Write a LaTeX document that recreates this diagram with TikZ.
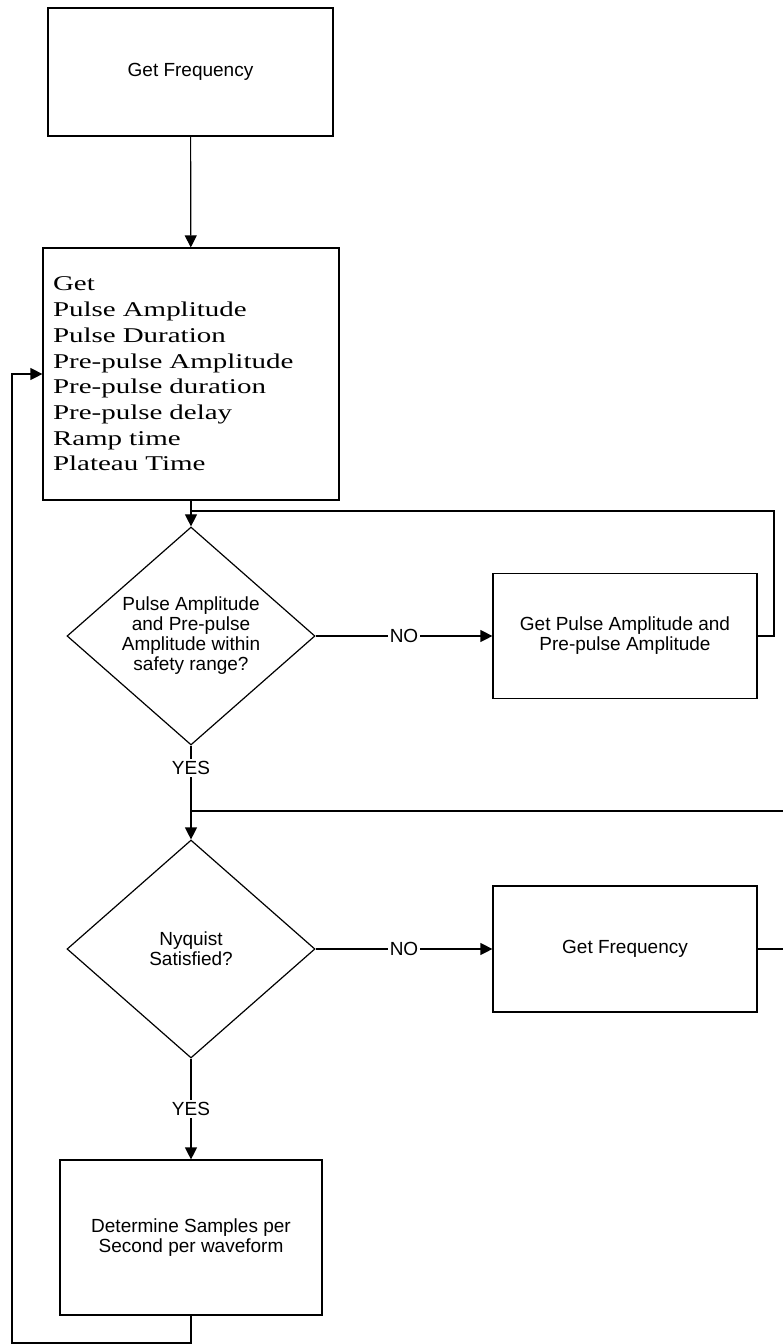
\documentclass[tikz,border=0pt]{standalone}
\usepackage{fontspec}
\setsansfont{Liberation Sans}
\newfontfamily\wideserif[FakeStretch=1.38]{Liberation Serif}
\usetikzlibrary{arrows.meta,shapes.geometric,positioning}

\tikzset{
  flow/.style={draw, line width=1.2pt, font=\sffamily\fontsize{19}{20}\selectfont, align=center},
  procbox/.style={flow, rectangle, inner sep=0pt},
  decision/.style={flow, diamond, shape aspect=1.14, inner sep=0pt, minimum width=248pt, minimum height=218pt},
  line/.style={line width=1.2pt},
  arrow/.style={line, -{Triangle[length=12pt,width=12pt]}},
  lbl/.style={fill=white, font=\sffamily\fontsize{19}{20}\selectfont, inner sep=2pt}
}

\begin{document}
\begin{tikzpicture}[x=1pt, y=-1pt]
  \useasboundingbox (0,0) rectangle (783,1344);
  \node[procbox, minimum width=285pt, minimum height=128pt] (freq) at (190.5,72) {Get Frequency};
  \node[procbox, minimum width=296pt, minimum height=252pt, text width=276pt, align=left, font=\wideserif\fontsize{21}{25.7}\selectfont] (param) at (191,374) {Get\\Pulse Amplitude\\Pulse Duration\\Pre-pulse Amplitude\\Pre-pulse duration\\Pre-pulse delay\\Ramp time\\Plateau Time};
  \node[decision] (chkamp) at (191,636) {Pulse Amplitude\\and Pre-pulse\\Amplitude within\\safety range?};
  \node[procbox, minimum width=264pt, minimum height=125pt] (getamp) at (625,636) {Get Pulse Amplitude and\\Pre-pulse Amplitude};
  \node[decision] (nyq) at (191,949) {Nyquist\\Satisfied?};
  \node[procbox, minimum width=264pt, minimum height=126pt] (getfreq) at (625,949) {Get Frequency};
  \node[procbox, minimum width=262pt, minimum height=155pt] (samp) at (191,1237.5) {Determine Samples per\\Second per waveform};
  % loop-back points
  \coordinate (join1) at (191,511);
  \coordinate (ret1) at (774,511);
  \coordinate (join2) at (191,811);
  \coordinate (ret2) at (790,811);
  \coordinate (back) at (12,1343);
  \draw[arrow] (freq) -- (param);
  \draw[arrow] (param) -- (chkamp);
  \draw[arrow] (chkamp.east) -- node[lbl] {NO} (getamp.west);
  \draw[line] (getamp.east) -| (ret1) -- (join1);
  \draw[arrow] (chkamp.south) -- node[lbl, pos=0.24] {YES} (nyq.north);
  \draw[arrow] (nyq.east) -- node[lbl] {NO} (getfreq.west);
  \draw[line] (getfreq.east) -| (ret2) -- (join2);
  \draw[arrow] (nyq.south) -- node[lbl] {YES} (samp.north);
  \draw[arrow] (samp.south) |- (back) |- (param.west);
\end{tikzpicture}
\end{document}
